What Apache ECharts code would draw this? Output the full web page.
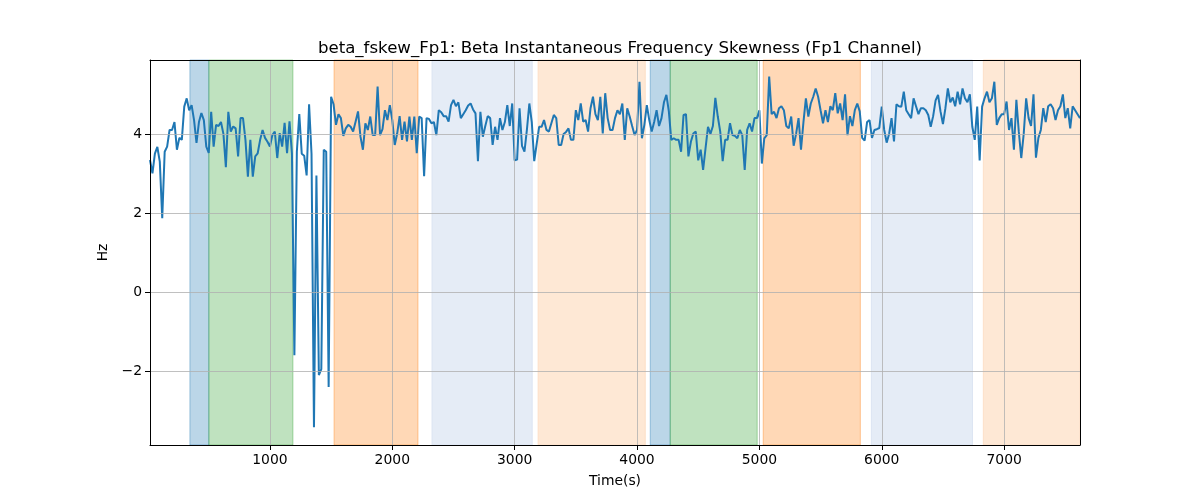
<!DOCTYPE html>
<html><head><meta charset="utf-8">
<script src="https://cdn.jsdelivr.net/npm/echarts@6/dist/echarts.min.js"></script>
<style>html,body{margin:0;padding:0;background:#fff}#c{width:1200px;height:500px}</style>
</head><body><div id="c"></div>
<script>
// sampling grid of the signal (s)
const startTime = 20, timeStep = 20;
// beta instantaneous frequency skewness, Fp1 (Hz)
const values = [
 3.34,3.0,3.5,3.67,3.3,1.87,3.55,3.68,4.1,4.1,4.3,3.6,3.9,3.85,4.69,4.9,4.6,4.73,4.35,3.77,
 4.3,4.53,4.35,3.68,3.52,4.56,3.68,4.23,4.2,4.3,4.0,3.16,4.56,4.06,4.19,4.14,3.43,4.4,4.4,3.85,
 2.92,3.85,2.92,3.43,3.51,3.85,4.1,3.9,3.8,3.68,3.97,4.06,3.39,4.02,3.68,4.28,3.51,4.32,3.5,
 -1.6,3.55,4.5,3.5,3.45,2.95,4.75,3.5,-3.42,2.95,-2.1,-1.95,3.6,3.55,-2.4,
 4.94,4.75,4.23,4.5,4.4,3.95,4.14,4.23,4.18,4.06,4.31,4.57,3.93,3.6,4.27,4.1,4.44,3.97,3.97,5.2,
 3.97,4.12,4.6,4.35,4.73,4.35,3.72,4.01,4.45,3.85,4.31,3.81,4.44,3.85,4.44,3.51,4.44,4.4,2.93,4.4,
 4.38,4.27,4.3,3.97,4.6,4.55,4.45,4.45,4.31,4.73,4.86,4.7,4.8,
 4.4,4.5,4.6,4.72,4.77,4.62,4.52,3.31,4.56,3.93,4.2,4.45,4.4,3.72,4.18,3.85,4.4,4.1,4.3,4.73,
 4.2,4.77,3.33,3.35,4.65,3.7,3.55,4.1,4.77,4.3,3.31,3.75,4.18,4.18,4.35,4.1,4.06,4.27,4.48,4.4,
 3.72,3.72,4.0,4.05,4.14,3.85,3.85,4.6,4.35,4.77,4.31,4.35,4.06,4.65,4.94,4.5,4.35,4.94,4.01,5.03,
 4.4,4.1,4.1,4.4,4.6,4.5,4.77,3.85,4.65,4.44,4.2,3.97,4.1,5.32,3.89,4.23,4.73,4.35,4.06,4.3,
 4.6,4.2,4.4,4.8,4.99,4.57,3.85,3.89,3.85,3.85,3.55,4.48,4.5,3.43,3.8,4.01,4.06,3.33,3.6,3.09,
 3.64,4.18,4.0,4.2,4.91,4.44,4.06,3.31,3.85,3.85,4.27,3.97,3.95,3.89,4.1,3.97,3.09,4.1,4.27,4.06,
 4.4,4.4,
 4.6,3.25,3.89,3.97,5.45,4.5,4.56,4.4,4.65,4.7,4.6,4.2,4.14,4.44,3.7,4.0,4.4,3.6,4.3,4.9,
 4.44,4.77,4.94,5.15,4.94,4.6,4.27,4.6,4.3,4.7,4.6,5.03,4.52,4.77,4.35,5.0,3.97,4.45,4.2,4.6,
 4.77,4.57,3.9,3.83,4.3,4.35,3.9,4.1,4.12,4.15,4.69,4.1,3.78,4.0,4.4,3.81,4.75,4.7,4.69,5.07,
 4.6,4.5,
 4.4,4.9,4.7,4.5,4.65,4.65,4.6,4.48,4.18,4.45,4.85,4.99,4.57,4.25,4.65,5.15,4.8,4.92,4.7,5.07,
 4.75,5.15,4.9,4.8,5.0,4.18,3.85,4.69,3.33,4.69,4.9,5.07,4.8,4.9,5.32,4.23,4.4,4.5,4.5,4.82,
 4.1,4.4,3.6,4.86,4.05,3.39,4.0,4.9,4.4,4.2,5.0,3.4,3.9,4.1,4.65,4.3,4.7,4.75,4.65,4.35,
 4.6,4.7,5.0,4.4,4.65,4.14,4.7,4.6,4.5,4.4
];
// shaded state intervals (s)
const bandStarts = [346, 501, 1524, 2325, 3192, 4108, 4271, 5031, 5915, 6830];
const bandEnds   = [501, 1188, 2210, 3143, 4067, 4271, 4982, 5825, 6741, 7620];
const bandKinds  = ['blue','green','orange','lightblue','lightorange','blue','green','orange','lightblue','lightorange'];
const xTicks = [1000, 2000, 3000, 4000, 5000, 6000, 7000];
const yTicks = [-2, 0, 2, 4];
const titleText = 'beta_fskew_Fp1: Beta Instantaneous Frequency Skewness (Fp1 Channel)';

const bandColors = {
  blue: ['rgba(31,119,180,0.3)', 'rgba(31,119,180,0.38)'],
  green: ['rgba(44,160,44,0.3)', 'rgba(44,160,44,0.38)'],
  orange: ['rgba(255,127,14,0.3)', 'rgba(255,127,14,0.38)'],
  lightblue: ['#e5ecf6', '#dbe4f2'],
  lightorange: ['#fee8d5', '#fddfc7']
};
const seriesData = values.map((v, i) => [startTime + i * timeStep, v]);
const xMin = startTime, xMax = startTime + (values.length - 1) * timeStep;
const yMin = -3.87, yMax = 5.87;
const font = 'DejaVu Sans';
const fmt = v => (v < 0 ? '\u2212' + Math.abs(v) : String(v));
const spine = {show: true, onZero: false, lineStyle: {color: '#000', width: 1}};

const chart = echarts.init(document.getElementById('c'), null, {renderer: 'canvas'});
chart.setOption({
  animation: false,
  backgroundColor: '#fff',
  title: {
    text: titleText, left: 615, top: 35, textAlign: 'center',
    textStyle: {fontFamily: font, fontSize: 16.6, fontWeight: 'normal', color: '#000'}
  },
  grid: {left: 150, right: 120, top: 60, bottom: 55, show: false},
  xAxis: [{
    type: 'value', min: xMin, max: xMax, z: 10,
    name: 'Time(s)', nameLocation: 'middle', nameGap: 29,
    nameTextStyle: {fontFamily: font, fontSize: 13.9, color: '#000'},
    splitLine: {show: false},
    axisLine: spine,
    axisTick: {show: true, customValues: xTicks, length: 5, lineStyle: {color: '#000', width: 1}},
    axisLabel: {customValues: xTicks, color: '#000', fontFamily: font, fontSize: 13.9, margin: 8, formatter: v => String(v)}
  }, {
    type: 'value', min: xMin, max: xMax, position: 'top', z: 10,
    splitLine: {show: false}, axisLine: spine, axisTick: {show: false}, axisLabel: {show: false}
  }],
  yAxis: [{
    type: 'value', min: yMin, max: yMax, z: 10,
    name: 'Hz', nameLocation: 'middle', nameGap: 37, nameRotate: 90,
    nameTextStyle: {fontFamily: font, fontSize: 13.9, color: '#000'},
    splitLine: {show: false},
    axisLine: spine,
    axisTick: {show: true, customValues: yTicks, length: 5, lineStyle: {color: '#000', width: 1}},
    axisLabel: {customValues: yTicks, color: '#000', fontFamily: font, fontSize: 13.9, margin: 8, formatter: fmt}
  }, {
    type: 'value', min: yMin, max: yMax, position: 'right', z: 10,
    splitLine: {show: false}, axisLine: spine, axisTick: {show: false}, axisLabel: {show: false}
  }],
  series: [
    {
      type: 'line', data: seriesData, symbol: 'none', silent: true, z: 1,
      lineStyle: {opacity: 0}, tooltip: {show: false},
      markArea: {
        silent: true,
        data: bandStarts.map((s, i) => [
          {xAxis: s, itemStyle: {color: bandColors[bandKinds[i]][0], borderColor: bandColors[bandKinds[i]][1], borderWidth: 1}},
          {xAxis: bandEnds[i]}
        ])
      }
    },
    {
      type: 'line', data: seriesData, symbol: 'none', silent: true, z: 2,
      lineStyle: {opacity: 0},
      markLine: {
        silent: true, symbol: 'none', label: {show: false},
        lineStyle: {color: '#b0b0b0', width: 0.8, type: 'solid'},
        data: xTicks.map(v => ({xAxis: v})).concat(yTicks.map(v => ({yAxis: v})))
      }
    },
    {
      type: 'line', data: seriesData, symbol: 'none', z: 3,
      lineStyle: {color: '#1f77b4', width: 2}, itemStyle: {color: '#1f77b4'}
    }
  ]
});
</script></body></html>
